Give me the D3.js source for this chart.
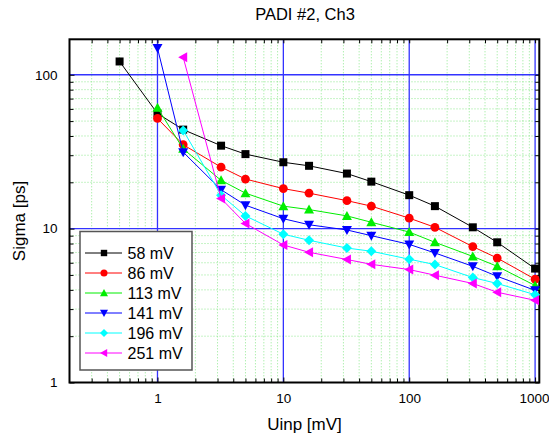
<!DOCTYPE html>
<html>
<head>
<meta charset="utf-8">
<script src="https://cdn.jsdelivr.net/npm/d3@7"></script>
<style>
  body { margin: 0; background: #fff; }
  svg { display: block; font-family: "Liberation Sans", Arial, sans-serif; }
</style>
</head>
<body>
<div id="chart"></div>
<script>
// PADI #2, Ch3 - sigma vs input amplitude
const uinp = [0.5, 1, 1.6, 3.2, 5, 10, 16, 32, 50, 100, 160, 320, 500, 1000];

const s58  = [122, 56, 44, 34.6, 30.5, 27, 25.6, 22.8, 20.2, 16.5, 14.0, 10.2, 8.15, 5.5];
const s86  = [null, 52, 35.1, 25.1, 21.0, 18.2, 17.0, 15.2, 14.0, 11.7, 10.2, 7.64, 6.44, 4.69];
const s113 = [null, 61, 33, 20.6, 17.0, 14.0, 13.3, 12.1, 11.0, 9.5, 8.15, 6.6, 5.69, 4.27];
const s141 = [null, 149, 31.4, 17.9, 14.2, 11.6, 10.6, 9.8, 9.0, 7.9, 6.95, 5.69, 4.90, 3.97];
const s196 = [null, null, 43.5, 16.5, 12.1, 9.2, 8.4, 7.48, 7.13, 6.33, 5.84, 4.81, 4.40, 3.72];
const s251 = [null, null, 130, 15.7, 10.8, 7.83, 7.02, 6.30, 5.86, 5.42, 4.98, 4.40, 3.86, 3.42];

const seriesNames = ['58 mV', '86 mV', '113 mV', '141 mV', '196 mV', '251 mV'];
const seriesValues = [s58, s86, s113, s141, s196, s251];
const seriesColors = ['#000000', '#ff0000', '#00ee00', '#0000ff', '#00ffff', '#ff00ff'];
const seriesShapes = ['square', 'circle', 'up', 'down', 'diamond', 'left'];

const xTicks = [1, 10, 100, 1000];
const yTicks = [1, 10, 100];

(function() {
  const width = 549, height = 438;
  const left = 69.5, right = 539.3, top = 39.3, bottom = 382.5;

  const x = d3.scaleLog().domain([0.2, 1080]).range([left, right]);
  const y = d3.scaleLog().domain([1, 170]).range([bottom, top]);

  const svg = d3.select('#chart').append('svg')
    .attr('width', width)
    .attr('height', height);

  // minor positions
  const xMinor = [];
  [0.1, 1, 10, 100].forEach(d => { for (let k = 2; k <= 9; k++) { const v = d * k; if (v > 0.2 && v < 1080) xMinor.push(v); } });
  const yMinor = [];
  [1, 10, 100].forEach(d => { for (let k = 2; k <= 9; k++) { const v = d * k; if (v < 170) yMinor.push(v); } });

  // Minor grid
  const grid = svg.append('g');
  grid.selectAll('.gx').data(xMinor).join('line')
    .attr('x1', d => x(d)).attr('x2', d => x(d))
    .attr('y1', top).attr('y2', bottom)
    .attr('stroke', '#8fe88f').attr('stroke-width', 1)
    .attr('stroke-dasharray', '1,2');
  grid.selectAll('.gy').data(yMinor).join('line')
    .attr('x1', left).attr('x2', right)
    .attr('y1', d => y(d)).attr('y2', d => y(d))
    .attr('stroke', '#8fe88f').attr('stroke-width', 1)
    .attr('stroke-dasharray', '1,2');

  // Major grid
  grid.selectAll('.mx').data(xTicks).join('line')
    .attr('x1', d => x(d)).attr('x2', d => x(d))
    .attr('y1', top).attr('y2', bottom)
    .attr('stroke', '#3333ff').attr('stroke-width', 1.3);
  grid.selectAll('.my').data(yTicks.filter(d => d > 1)).join('line')
    .attr('x1', left).attr('x2', right)
    .attr('y1', d => y(d)).attr('y2', d => y(d))
    .attr('stroke', '#3333ff').attr('stroke-width', 1.3);

  // Axes (ticks inward)
  const fmt = d => d3.format('d')(d);
  svg.append('g').attr('transform', `translate(0,${bottom})`)
    .call(d3.axisBottom(x).tickValues(xTicks).tickFormat(fmt).tickSizeInner(-5).tickSizeOuter(0).tickPadding(11));
  svg.append('g').attr('transform', `translate(0,${bottom})`)
    .call(d3.axisBottom(x).tickValues(xMinor).tickFormat('').tickSizeInner(-4).tickSizeOuter(0));
  svg.append('g').attr('transform', `translate(0,${top})`)
    .call(d3.axisTop(x).tickValues(xTicks.concat(xMinor)).tickFormat('').tickSizeInner(-4).tickSizeOuter(0));
  svg.append('g').attr('transform', `translate(${left},0)`)
    .call(d3.axisLeft(y).tickValues(yTicks).tickFormat(fmt).tickSizeInner(-5).tickSizeOuter(0).tickPadding(12));
  svg.append('g').attr('transform', `translate(${left},0)`)
    .call(d3.axisLeft(y).tickValues(yMinor).tickFormat('').tickSizeInner(-4).tickSizeOuter(0));
  svg.append('g').attr('transform', `translate(${right},0)`)
    .call(d3.axisRight(y).tickValues(yTicks.concat(yMinor)).tickFormat('').tickSizeInner(-4).tickSizeOuter(0));

  svg.selectAll('.domain').remove();
  svg.selectAll('.tick line').attr('stroke', '#000');
  svg.selectAll('.tick text')
    .attr('font-family', '"Liberation Sans", Arial, sans-serif')
    .attr('font-size', 13.5).attr('fill', '#000');
  // keep the last x label inside the window
  svg.selectAll('.tick text').filter(d => d === 1000).attr('dx', -1);

  // Frame
  svg.append('rect')
    .attr('x', left).attr('y', top)
    .attr('width', right - left).attr('height', bottom - top)
    .attr('fill', 'none').attr('stroke', '#000').attr('stroke-width', 2);

  function shapePath(shape, s) {
    switch (shape) {
      case 'square': return `M${-4*s},${-4*s}h${8*s}v${8*s}h${-8*s}Z`;
      case 'circle': { const r = 4.4 * s; return `M${-r},0a${r},${r} 0 1,0 ${2*r},0a${r},${r} 0 1,0 ${-2*r},0Z`; }
      case 'up': return `M0,${-5*s}L${5*s},${4*s}L${-5*s},${4*s}Z`;
      case 'down': return `M0,${5*s}L${5*s},${-4*s}L${-5*s},${-4*s}Z`;
      case 'diamond': return `M0,${-5*s}L${5*s},0L0,${5*s}L${-5*s},0Z`;
      case 'left': return `M${-5*s},0L${4*s},${-5*s}L${4*s},${5*s}Z`;
    }
  }

  // Series
  const line = d3.line().x(d => x(d.x)).y(d => y(d.y));
  seriesValues.forEach((vals, i) => {
    const pts = uinp.map((u, j) => ({ x: u, y: vals[j] })).filter(d => d.y != null);
    const g = svg.append('g');
    g.append('path').attr('d', line(pts))
      .attr('fill', 'none').attr('stroke', seriesColors[i]).attr('stroke-width', 1);
    g.selectAll('path.m').data(pts).join('path')
      .attr('class', 'm')
      .attr('transform', d => `translate(${x(d.x)},${y(d.y)})`)
      .attr('d', shapePath(seriesShapes[i], 1))
      .attr('fill', seriesColors[i]);
  });

  // Legend
  const lg = svg.append('g');
  lg.append('rect')
    .attr('x', 80).attr('y', 231.5).attr('width', 112).attr('height', 138.5)
    .attr('fill', '#fff').attr('stroke', '#555').attr('stroke-width', 1.5);
  seriesNames.forEach((name, i) => {
    const cy = 253 + i * 20;
    lg.append('line').attr('x1', 85).attr('x2', 122).attr('y1', cy).attr('y2', cy)
      .attr('stroke', seriesColors[i]).attr('stroke-width', 1);
    lg.append('path').attr('transform', `translate(104,${cy})`)
      .attr('d', shapePath(seriesShapes[i], 0.8)).attr('fill', seriesColors[i]);
    lg.append('text').attr('x', 127.5).attr('y', cy).attr('dy', '0.36em')
      .attr('font-size', 16).attr('fill', '#000').text(name);
  });

  // Titles
  svg.append('text').attr('x', 305).attr('y', 20).attr('text-anchor', 'middle')
    .attr('font-size', 16.5).attr('fill', '#000').text('PADI #2, Ch3');
  svg.append('text').attr('x', 304.5).attr('y', 430).attr('text-anchor', 'middle')
    .attr('font-size', 17).attr('fill', '#000').text('Uinp [mV]');
  svg.append('text').attr('transform', 'translate(25,221) rotate(-90)').attr('text-anchor', 'middle')
    .attr('font-size', 17).attr('fill', '#000').text('Sigma [ps]');
})();
</script>
</body>
</html>
